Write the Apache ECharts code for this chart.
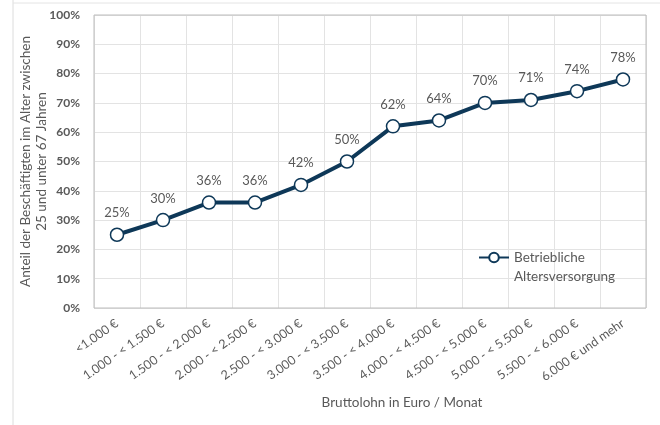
<!DOCTYPE html>
<html>
<head>
<meta charset="utf-8">
<script src="https://cdn.jsdelivr.net/npm/echarts@6/dist/echarts.min.js"></script>
<style>html,body{margin:0;padding:0;background:#fff}#c{width:660px;height:425px}</style>
</head>
<body>
<div id="c"></div>
<script>
var categories = ['<1.000 €','1.000 - < 1.500 €','1.500 - < 2.000 €','2.000 - < 2.500 €','2.500 - < 3.000 €','3.000 - < 3.500 €','3.500 - < 4.000 €','4.000 - < 4.500 €','4.500 - < 5.000 €','5.000 - < 5.500 €','5.500 - < 6.000 €','6.000 € und mehr'];
var values = [25, 30, 36, 36, 42, 50, 62, 64, 70, 71, 74, 78];
var seriesName = 'Betriebliche\nAltersversorgung';
var yAxisName = 'Anteil der Beschäftigten im Alter zwischen\n25 und unter 67 Jahren';
var xAxisName = 'Bruttolohn in Euro / Monat';

var chart = echarts.init(document.getElementById('c'));
var font = 'Lato';
chart.setOption({
  animation: false,
  textStyle: {fontFamily: font},
  graphic: [
    {type: 'line', shape: {x1: 13, y1: 0, x2: 13, y2: 425}, style: {stroke: '#dcdcdc', lineWidth: 1}},
    {type: 'line', shape: {x1: 13, y1: 3, x2: 660, y2: 3}, style: {stroke: '#e4e4e4', lineWidth: 1}},
    {type: 'rect', shape: {x: 94, y: 15, width: 552, height: 293}, style: {fill: 'none', stroke: '#bdbdbd', lineWidth: 1}, z: 10},
    {type: 'text', x: 402, y: 403, style: {text: xAxisName, fontSize: 13.5, fill: '#595959', fontFamily: font, align: 'center', verticalAlign: 'middle'}}
  ],
  grid: {left: 94, right: 14, top: 15, bottom: 117, outerBoundsMode: 'none', containLabel: false},
  legend: {
    data: [seriesName],
    left: 473, top: 224,
    itemWidth: 30, itemHeight: 12, itemGap: 4,
    formatter: function (n) { return '\n' + n; },
    textStyle: {fontSize: 13.5, color: '#595959', fontFamily: font, lineHeight: 19}
  },
  xAxis: {
    type: 'category',
    data: categories,
    boundaryGap: true,
    axisLine: {show: false},
    axisTick: {show: false},
    splitLine: {show: true, lineStyle: {color: '#e3e3e3', width: 1}},
    axisLabel: {rotate: 35, fontSize: 12.5, color: '#595959', margin: 14, interval: 0, fontFamily: font}
  },
  yAxis: {
    type: 'value',
    min: 0, max: 100, interval: 10,
    name: yAxisName,
    nameLocation: 'middle',
    nameGap: 44,
    nameMoveOverlap: false,
    nameTextStyle: {fontSize: 13.5, color: '#595959', lineHeight: 16, fontFamily: font},
    axisLine: {show: false},
    axisTick: {show: false},
    splitLine: {lineStyle: {color: '#e3e3e3', width: 1}},
    axisLabel: {formatter: '{value}%', fontSize: 12, color: '#595959', margin: 14, fontWeight: 'bold', fontFamily: font}
  },
  series: [{
    name: seriesName,
    type: 'line',
    data: values,
    symbol: 'circle',
    symbolSize: 13,
    lineStyle: {color: '#0e3858', width: 4},
    itemStyle: {color: '#ffffff', borderColor: '#0e3858', borderWidth: 1.5},
    label: {show: true, position: 'top', distance: 8, formatter: '{c}%', fontSize: 13, color: '#595959', fontFamily: font},
    z: 5
  }]
});
</script>
</body>
</html>
